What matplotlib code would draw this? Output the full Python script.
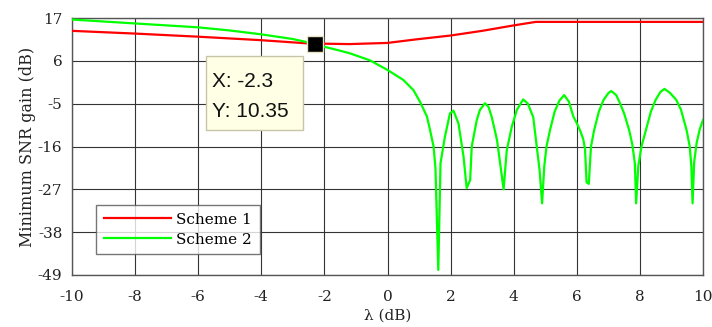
import matplotlib
matplotlib.use("Agg")
import matplotlib.pyplot as plt
from matplotlib.patches import Rectangle

# Scheme 1: minimum SNR gain (dB) versus lambda (dB)
lam_s1 = [-10, -8, -6, -4, -2.3, -2, -1.2, 0, 0.9, 2, 3, 4, 4.7, 10]
gain_s1 = [13.7, 13.0, 12.2, 11.3, 10.35, 10.4, 10.3, 10.6, 11.5, 12.5, 13.7, 15.1, 16.0, 16.0]

# Scheme 2: minimum SNR gain (dB) versus lambda (dB)
lam_s2 = [-10, -9, -8, -7, -6, -5, -4, -3, -2.3, -2, -1.5, -1.18, -0.55, 0,
          0.5, 0.82, 1.03, 1.25, 1.35, 1.46, 1.52, 1.61,
          1.68, 1.82, 1.98, 2.09, 2.25, 2.41, 2.51, 2.62, 2.67, 2.83, 2.93, 3.09,
          3.2, 3.3, 3.47, 3.57, 3.68, 3.78, 3.94, 4.1, 4.3, 4.45, 4.62, 4.73, 4.82, 4.9,
          4.97, 5.04, 5.15, 5.3, 5.45, 5.6, 5.75, 5.89, 6.0, 6.1, 6.2, 6.26, 6.31, 6.38,
          6.45, 6.55, 6.7, 6.85, 7.0, 7.09, 7.25, 7.37, 7.5, 7.66, 7.76, 7.84, 7.88,
          7.95, 8.05, 8.2, 8.35, 8.5, 8.65, 8.78, 8.95, 9.15, 9.3, 9.48, 9.58, 9.63, 9.67,
          9.72, 9.8, 9.9, 10]
gain_s2 = [16.6, 16.1, 15.6, 15.1, 14.6, 13.8, 12.8, 11.6, 10.35, 9.6, 8.6, 7.9, 6.1, 3.65,
           1.1, -1.5, -4.5, -8.3, -11.8, -16.0, -21.5, -47.7,
           -20.3, -13.5, -7.5, -6.8, -10.1, -18.6, -26.7, -24.6, -16.0, -9.2, -6.6, -4.9,
           -5.8, -8.3, -14.3, -20.3, -27.0, -17.0, -10.9, -6.6, -3.9, -5.0, -8.5, -16.0, -22.0, -30.6,
           -21.0, -16.0, -11.8, -7.0, -4.2, -2.8, -4.5, -8.3, -10.0, -11.8, -14.0, -16.5, -25.2, -25.6,
           -16.0, -11.8, -7.0, -4.0, -2.3, -1.75, -2.8, -4.9, -7.5, -11.8, -15.5, -20.3, -30.6,
           -21.0, -16.0, -11.5, -7.0, -4.0, -2.0, -1.2, -2.2, -4.0, -6.5, -11.8, -16.0, -21.0, -30.6,
           -20.0, -15.0, -11.5, -9.2]

# Data tip
tip_x, tip_y = -2.3, 10.35

xticks = [-10, -8, -6, -4, -2, 0, 2, 4, 6, 8, 10]
yticks = [-49, -38, -27, -16, -5, 6, 17]

plt.rcParams["font.family"] = ["DejaVu Serif"]
plt.rcParams["axes.unicode_minus"] = False

fig = plt.figure(figsize=(7.12, 3.27), dpi=100)
ax = fig.add_axes([72 / 712, 1 - 275 / 327, (703 - 72) / 712, (275 - 18) / 327])

ax.plot(lam_s1, gain_s1, color="#ff0000", lw=1.6, label="Scheme 1", zorder=3)
ax.plot(lam_s2, gain_s2, color="#00ff00", lw=1.6, label="Scheme 2", zorder=3)

ax.set_xlim(-10, 10)
ax.set_ylim(-49, 17)
ax.set_xticks(xticks)
ax.set_yticks(yticks)
ax.tick_params(direction="in", length=0, labelsize=11, colors="#222222")
ax.tick_params(axis="x", pad=11)
ax.tick_params(axis="y", pad=7)
ax.grid(True, color="#333333", lw=0.8, ls="-", zorder=1)
ax.set_axisbelow(True)
for s in ax.spines.values():
    s.set_color("#555555")
    s.set_linewidth(1.0)

ax.set_xlabel("λ (dB)", fontsize=11, labelpad=3, color="#222222")
ax.set_ylabel("Minimum SNR gain (dB)", fontsize=11.5, labelpad=1, color="#222222")

leg = ax.legend(loc="lower left", bbox_to_anchor=(0.038, 0.08), fontsize=11,
                frameon=True, fancybox=False, handlelength=4.4, handletextpad=0.35,
                borderpad=0.5, labelspacing=0.4, borderaxespad=0)
leg.get_frame().set_edgecolor("#555555")
leg.get_frame().set_linewidth(1.0)

# Data tip marker and label box
ax.plot([tip_x], [tip_y], marker="s", ms=11, mfc="black", mec="#e8e4c4", mew=1.0, zorder=5)
box = Rectangle((-5.76, -11.76), 3.09, 19.0, facecolor="#ffffe6", edgecolor="#c8c4a8",
                lw=1.0, zorder=4)
ax.add_patch(box)
ax.text(-5.55, -0.6, f"X: {tip_x}", fontsize=15, family=["Liberation Sans"],
        va="baseline", ha="left", zorder=6, color="#111111")
ax.text(-5.55, -8.5, f"Y: {tip_y}", fontsize=15, family=["Liberation Sans"],
        va="baseline", ha="left", zorder=6, color="#111111")

fig.savefig("out.png", dpi=100)
